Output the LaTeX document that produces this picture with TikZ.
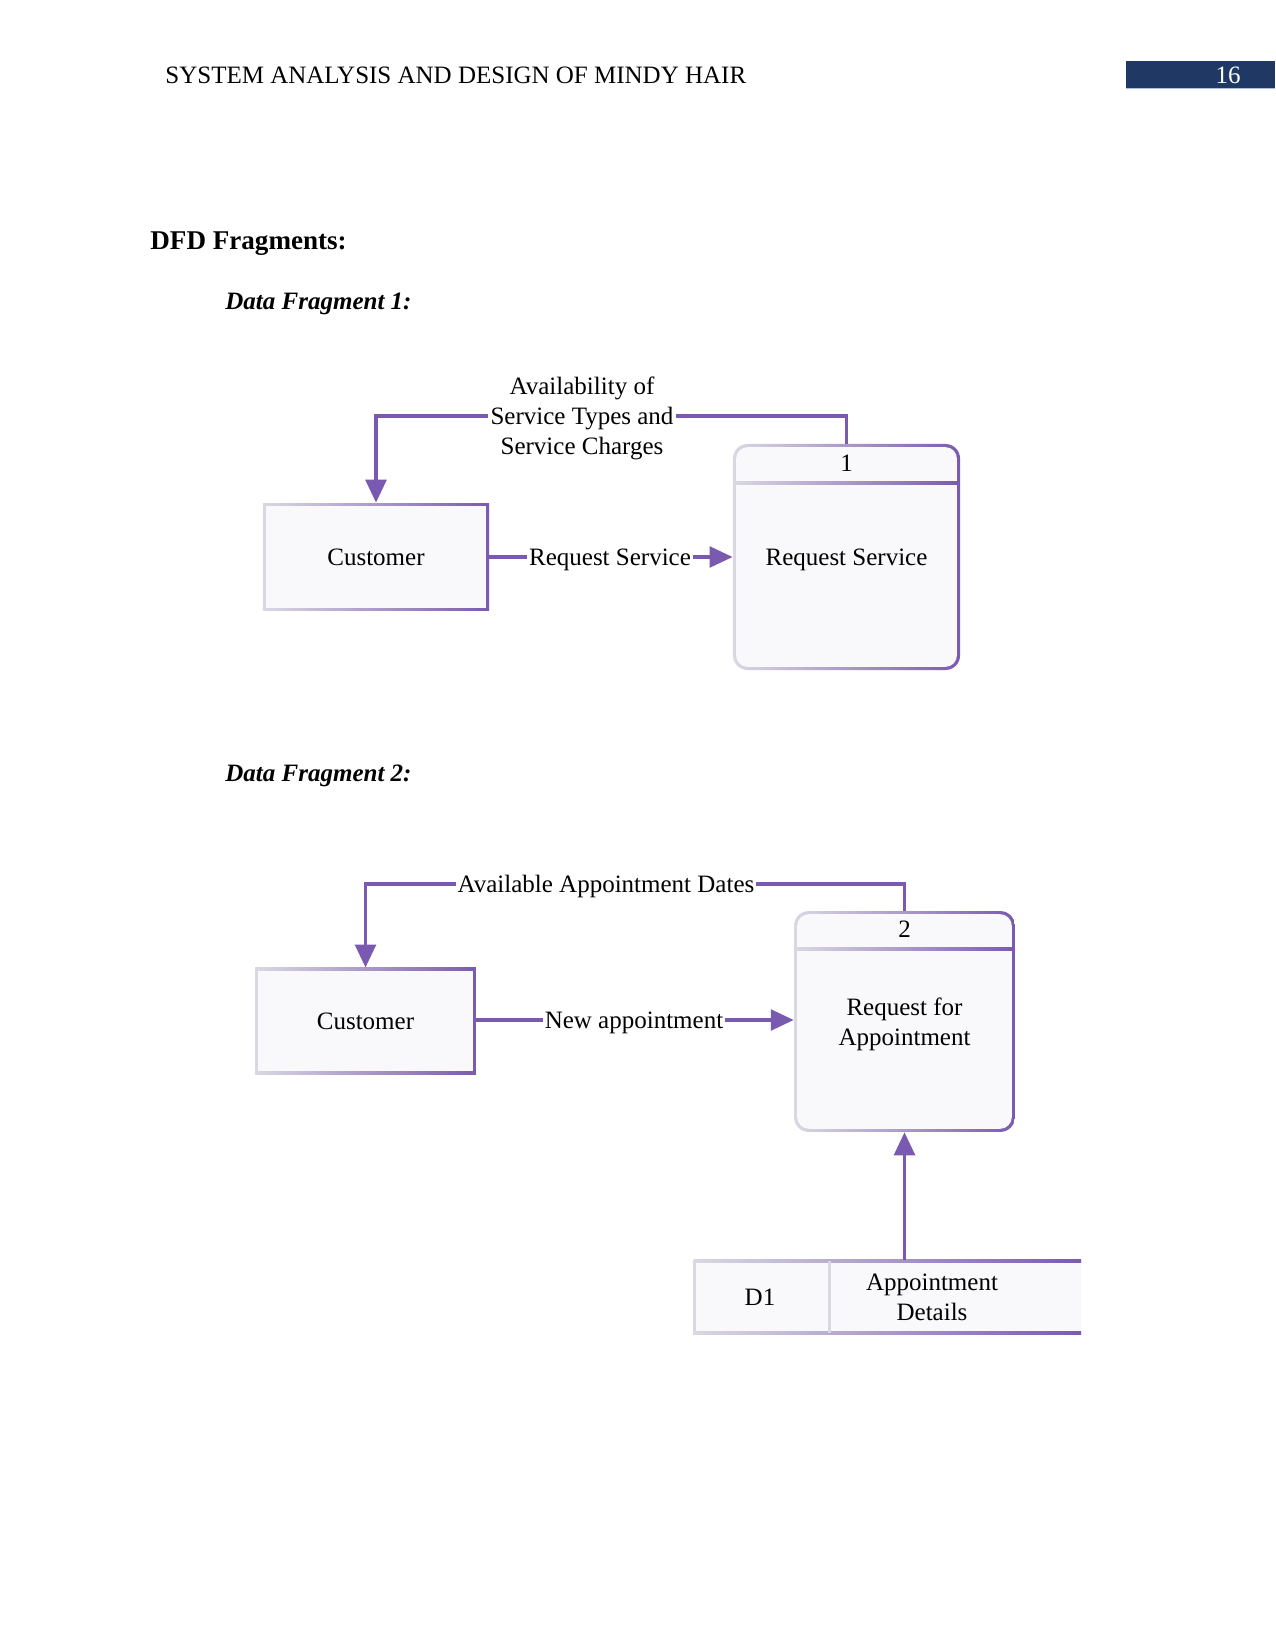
\documentclass[tikz,border=0pt]{standalone}
\usepackage{fontspec}
\setmainfont{Liberation Serif}
\usetikzlibrary{arrows.meta}
\definecolor{dfdpurple}{RGB}{122,90,176}
\definecolor{dfdlight}{RGB}{218,216,226}
\definecolor{dfdfill}{RGB}{249,249,251}
\definecolor{navy}{RGB}{31,56,100}
\definecolor{navyline}{RGB}{170,190,225}
\tikzset{
  txt/.style={font=\fontsize{12}{14.4}\selectfont, text depth=0pt},
  flow/.style={draw=dfdpurple, line width=1.5pt, -{Triangle[length=11pt,width=10pt]}},
  flowlabel/.style={txt, fill=white, inner sep=1pt, align=center},
  extbox/.style={txt, inner sep=0pt, left color=dfdlight, middle color=dfdlight!60!dfdpurple, right color=dfdpurple,
    path picture={\fill[dfdfill] ([shift={(1.5pt,1.5pt)}]path picture bounding box.south west) rectangle ([shift={(-1.5pt,-1.5pt)}]path picture bounding box.north east);}},
  procbox/.style={txt, inner sep=0pt, align=center, rounded corners=7pt, left color=dfdlight, middle color=dfdlight!60!dfdpurple, right color=dfdpurple,
    path picture={\fill[dfdfill, rounded corners=5.6pt] ([shift={(1.5pt,1.5pt)}]path picture bounding box.south west) rectangle ([shift={(-1.5pt,-1.5pt)}]path picture bounding box.north east);}},
  hdrline/.style={left color=dfdlight, middle color=dfdlight!60!dfdpurple, right color=dfdpurple},
}
\begin{document}
\begin{tikzpicture}[x=0.48pt,y=-0.48pt]
\useasboundingbox (0,0) rectangle (1275,1650);
\fill[white] (0,0) rectangle (1275,1650);
% page header
\node[txt, anchor=west, inner sep=0pt] (hdr) at (165,75) {SYSTEM ANALYSIS AND DESIGN OF MINDY HAIR};
\fill[navy] (1126,61) rectangle (1275,88);
\fill[navyline] (1126,88) rectangle (1275,89.5);
\node[txt, text=white, inner sep=0pt] (pg) at (1228,75) {16};
% headings
\node[anchor=west, inner sep=0pt, text depth=0pt, font=\fontsize{13}{15.6}\selectfont\bfseries] (h1) at (150,241) {DFD Fragments:};
\node[anchor=west, inner sep=0pt, text depth=0pt, font=\fontsize{12}{14.4}\selectfont\bfseries\itshape] (h2) at (225,301) {Data Fragment 1:};
\node[anchor=west, inner sep=0pt, text depth=0pt, font=\fontsize{12}{14.4}\selectfont\bfseries\itshape] (h3) at (225,773) {Data Fragment 2:};

% ---------- Fragment 1 ----------
\node[extbox, minimum width=108.5pt, minimum height=51.8pt] (c1) at (376,557) {Customer};
\node[procbox, minimum width=109pt, minimum height=108.5pt] (p1) at (846.5,557) {Request Service};
\shade[hdrline] (734,481.5) rectangle (959,484);
\node[txt] (n1) at (846.5,463) {1};
\draw[flow] (c1.east) -- (p1.west);
\node[flowlabel] (l1) at (610,557) {Request Service};
\coordinate (t1) at (846.5,416);
\draw[flow] (p1.north) -- (t1) -| (c1.north);
\node[flowlabel] (l2) at (582,416) {Availability of\\Service Types and\\Service Charges};

% ---------- Fragment 2 ----------
\node[extbox, minimum width=106pt, minimum height=51pt] (c2) at (365.5,1021) {Customer};
\node[procbox, minimum width=106pt, minimum height=106pt] (p2) at (904.5,1021.5) {Request for\\Appointment};
\shade[hdrline] (795,947.5) rectangle (1014,950);
\node[txt] (n2) at (904.5,929) {2};
\draw[flow] (c2.east |- 0,1020) -- (p2.west |- 0,1020);
\node[flowlabel] (l3) at (634,1020) {New appointment};
\coordinate (t2) at (904.5,884);
\draw[flow] (p2.north) -- (t2) -| (c2.north);
\node[flowlabel] (l4) at (606,884) {Available Appointment Dates};

% data store
\fill[dfdfill] (694,1261) rectangle (1081,1333);
\shade[hdrline] (694,1259.5) rectangle (1081,1262.5);
\shade[hdrline] (694,1331.5) rectangle (1081,1334.5);
\fill[dfdlight] (692.5,1259.5) rectangle (695.5,1334.5);
\fill[dfdlight] (827.5,1261) rectangle (830.5,1333);
\node[txt] (d1) at (760,1297) {D1};
\node[txt, align=center] (d1name) at (932,1297) {Appointment\\Details};
\coordinate (dstop) at (904.5,1260);
\draw[flow] (dstop) -- (p2.south);
\end{tikzpicture}
\end{document}
